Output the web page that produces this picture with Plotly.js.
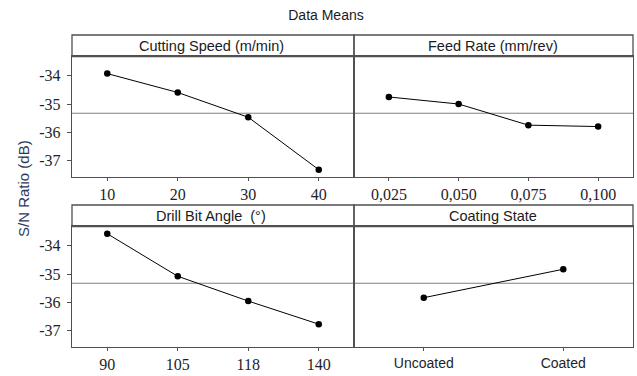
<!DOCTYPE html>
<html>
<head>
<meta charset="utf-8">
<script src="https://cdn.plot.ly/plotly-3.0.1.min.js"></script>
<style>html,body{margin:0;padding:0;background:#fff;}#chart{width:637px;height:376px;}</style>
</head>
<body>
<div id="chart"></div>
<script>
// ---- data ----
const speedLevels = [10, 20, 30, 40];
const speedSN = [-33.92, -34.59, -35.47, -37.33];
const feedLevels = [0.025, 0.050, 0.075, 0.100];
const feedSN = [-34.75, -35.00, -35.75, -35.80];
const angleLevels = ['90', '105', '118', '140'];
const angleSN = [-33.57, -35.08, -35.96, -36.78];
const coatingLevels = ['Uncoated', 'Coated'];
const coatingSN = [-35.84, -34.83];
const panelTitles = ['Cutting Speed (m/min)', 'Feed Rate (mm/rev)', 'Drill Bit Angle  (°)', 'Coating State'];
const yTickVals = [-34, -35, -36, -37];
const yTickText = ['-34', '-35', '-36', '-37'];
const feedTickText = ['0,025', '0,050', '0,075', '0,100'];

const W = 637, H = 376;
const px = v => v / W;
const py = v => 1 - v / H;

const grandMean = speedSN.reduce((a, b) => a + b, 0) / speedSN.length;

const lineCol = '#505050';
const tickFont = {family: 'Liberation Serif, Times New Roman, serif', size: 16, color: '#1e1e28'};
const sans = 'Liberation Sans, Arial, sans-serif';

const xL = [px(72), px(354)], xR = [px(354), px(633)];
const yT = [py(176.7), py(56.7)], yB = [py(346.7), py(226.7)];
const yRange = [-37.58, -33.32];

function trace(x, y, xa, ya) {
  return {x: x, y: y, xaxis: xa, yaxis: ya, type: 'scatter', mode: 'lines+markers',
    line: {color: '#000', width: 1}, marker: {color: '#000', size: 6.5}, hoverinfo: 'x+y'};
}

const data = [
  trace(speedLevels, speedSN, 'x', 'y'),
  trace(feedLevels, feedSN, 'x2', 'y2'),
  trace(angleLevels, angleSN, 'x3', 'y3'),
  trace(coatingLevels, coatingSN, 'x4', 'y4')
];

function xax(domain, anchor, extra) {
  return Object.assign({domain: domain, anchor: anchor, showgrid: false, zeroline: false,
    showline: true, mirror: true, linecolor: lineCol, linewidth: 1.3,
    ticks: 'outside', ticklen: 3, tickcolor: lineCol, tickwidth: 1,
    tickfont: tickFont, ticklabelstandoff: 0, automargin: false, fixedrange: true}, extra);
}
function yax(domain, anchor, labels) {
  return {domain: domain, anchor: anchor, range: yRange, showgrid: false, zeroline: false,
    showline: true, mirror: true, linecolor: lineCol, linewidth: 1.3,
    ticks: labels ? 'outside' : '', ticklen: 4, tickcolor: lineCol, tickwidth: 1,
    tickvals: labels ? yTickVals : [], ticktext: labels ? yTickText : [],
    showticklabels: labels, tickfont: tickFont, ticklabelstandoff: 3,
    automargin: false, fixedrange: true};
}

const layout = {
  width: W, height: H,
  margin: {l: 0, r: 0, t: 0, b: 0},
  paper_bgcolor: '#fff', plot_bgcolor: '#fff',
  showlegend: false,
  title: {text: 'Data Means', x: px(326), xref: 'paper', xanchor: 'center', y: py(15), yref: 'paper', yanchor: 'middle',
    font: {family: sans, size: 14, color: '#1a1a24'}},
  xaxis: xax(xL, 'y', {range: [5, 45], tickvals: speedLevels}),
  yaxis: yax(yT, 'x', true),
  xaxis2: xax(xR, 'y2', {range: [0.0125, 0.1125], tickvals: feedLevels, ticktext: feedTickText}),
  yaxis2: yax(yT, 'x2', false),
  xaxis3: xax(xL, 'y3', {type: 'category', range: [-0.5, 3.5], categoryarray: angleLevels, categoryorder: 'array'}),
  yaxis3: yax(yB, 'x3', true),
  xaxis4: xax(xR, 'y4', {type: 'category', range: [-0.5, 1.5], categoryarray: coatingLevels, categoryorder: 'array',
    tickfont: {family: sans, size: 14, color: '#1e1e28'}}),
  yaxis4: yax(yB, 'x4', false),
  shapes: [],
  annotations: [
    {text: 'S/N Ratio (dB)', x: px(23), y: py(189), xref: 'paper', yref: 'paper', textangle: -90,
      showarrow: false, xanchor: 'center', yanchor: 'middle', font: {family: sans, size: 15, color: '#2b3a5c'}}
  ]
};

// header strips
const headers = [[xL, 35, 56.7], [xR, 35, 56.7], [xL, 205, 226.7], [xR, 205, 226.7]];
headers.forEach((h, i) => {
  layout.shapes.push({type: 'rect', xref: 'paper', yref: 'paper', x0: h[0][0], x1: h[0][1], y0: py(h[2]), y1: py(h[1]),
    line: {color: lineCol, width: 1.3}, fillcolor: 'rgba(0,0,0,0)', layer: 'above'});
  layout.annotations.push({text: panelTitles[i], x: (h[0][0] + h[0][1]) / 2 - (i % 2 === 0 ? 1.5 / W : 0), y: py((h[1] + h[2]) / 2 + 0.5),
    xref: 'paper', yref: 'paper', showarrow: false, xanchor: 'center', yanchor: 'middle',
    font: {family: sans, size: 14.5, color: '#1a1a24'}});
});

// grand mean reference lines
['', '2', '3', '4'].forEach(s => {
  layout.shapes.push({type: 'line', xref: 'x' + s + ' domain', yref: 'y' + s, x0: 0, x1: 1, y0: grandMean, y1: grandMean,
    line: {color: '#808080', width: 1.2}, layer: 'below'});
});

Plotly.newPlot('chart', data, layout, {displayModeBar: false, staticPlot: true});
</script>
</body>
</html>
